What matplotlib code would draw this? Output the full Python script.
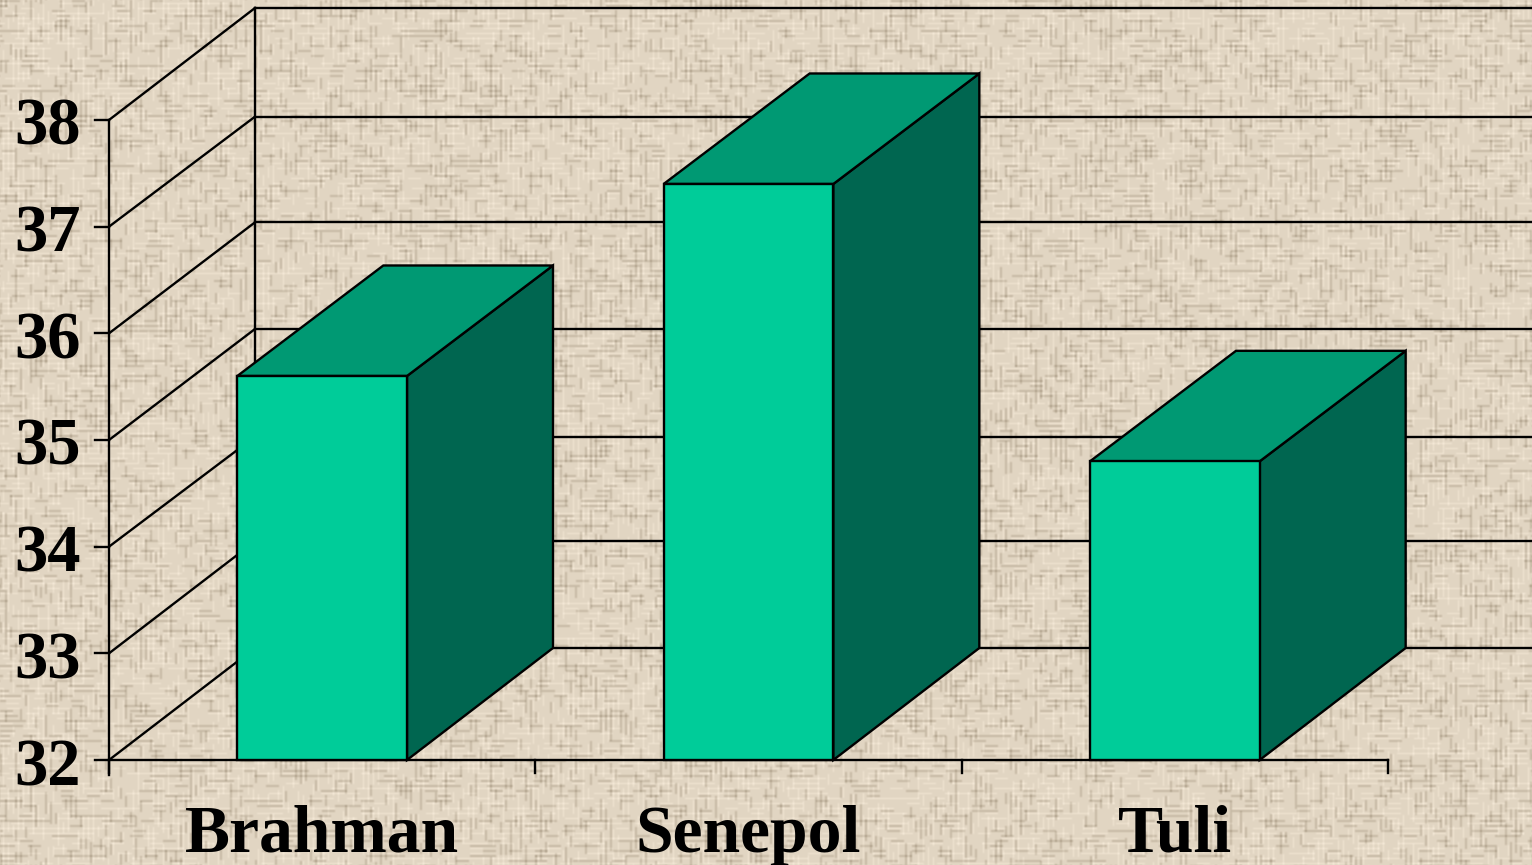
#!/usr/bin/env python3

"""plot.py: fake 3D bar chart of three breeds on a burlap background."""

import numpy as np
import matplotlib
matplotlib.use('Agg')
import matplotlib.pyplot as plt
from matplotlib.patches import Polygon

#DATA#
breeds = ['Brahman', 'Senepol', 'Tuli']
values = [35.6, 37.4, 34.8]
y_ticks = [32, 33, 34, 35, 36, 37, 38]

#STYLE#
W, H = 1532, 865
x_per_unit = 426.33   # pixels for one category
y_per_unit = 106.67   # pixels for one y unit
x0_px, y0_px = 109, 760
depth_x = 146 / x_per_unit
depth_y = 112 / y_per_unit
top_depth_y = 110.5 / y_per_unit   # bar tops are a touch shallower
wall_nudge = [0, 0, 2, 1, 1, 2, 0]   # back wall lines sit a px or two off the ticks
bar_width = 0.398
lw = 1.7
plt.rcParams['font.family'] = ['Liberation Serif', 'DejaVu Serif']


def hash2(a, b):
    # cheap repeatable hash, only used for the cloth texture
    v = np.sin(a * 12.9898 + b * 78.233) * 43758.5453
    return v - np.floor(v)


def blur(img):
    out = img.copy()
    for axis in (0, 1):
        out = (np.roll(out, 1, axis) + 2 * out + np.roll(out, -1, axis)) / 4
    return out


def threads(along, across, period, seg):
    # broken dark and light thread lines running along one direction
    t = across // period
    s = (along + (hash2(t, 2.1) * seg).astype(int)) // seg
    on_line = across % period < 2
    busy = 0.12 + 0.26 * hash2(t // 4, s // 5)
    dark = on_line & (hash2(t * 0.7, s * 1.1) < busy)
    light = (across % period == 3) & (hash2(t * 1.9, s * 0.6 + 4) < 0.4)
    return dark * 1.0, light * 1.0


fig = plt.figure(figsize=(W / 100, H / 100), dpi=100)
ax = fig.add_axes([0, 0, 1, 1])
xlim = (-x0_px / x_per_unit, (W - x0_px) / x_per_unit)
ylim = (32 - (H - y0_px) / y_per_unit, 32 + y0_px / y_per_unit)

# burlap weave on a roughly 5 px grid
yy, xx = np.mgrid[0:H, 0:W]
dark_v, light_v = threads(yy, xx, 5, 11)
dark_h, light_h = threads(xx, yy, 5, 13)
weave = blur(18 * light_v + 18 * light_h - 26 * dark_v - 26 * dark_h)
base = np.array([225, 213, 194], dtype=float)
tex = base[None, None, :] + weave[:, :, None] * np.array([1.0, 1.03, 1.1])
ax.imshow(np.clip(tex, 0, 255).astype(np.uint8), extent=(*xlim, *ylim), aspect='auto',
          interpolation='nearest', zorder=0)

#WALLS#
for v, nudge in zip(y_ticks, wall_nudge):
    back_y = v + depth_y - nudge / y_per_unit
    ax.plot([0, depth_x], [v, back_y], color='k', lw=lw, zorder=1)
    ax.plot([depth_x, xlim[1]], [back_y, back_y], color='k', lw=lw, zorder=1)
    ax.plot([-14 / x_per_unit, 0], [v, v], color='k', lw=lw, zorder=1)
    ax.annotate(str(v), xy=(0, v), xytext=(-28, -25), textcoords='offset pixels',
                ha='right', va='baseline', fontsize=48, fontweight='bold', color='k')

ax.plot([0, 0], [32 - 15 / y_per_unit, y_ticks[-1]], color='k', lw=lw, zorder=1)
ax.plot([depth_x, depth_x], [32 + depth_y, y_ticks[-1] + depth_y], color='k', lw=lw, zorder=1)
ax.plot([0, len(breeds)], [32, 32], color='k', lw=lw, zorder=1)
for i in range(len(breeds) + 1):
    ax.plot([i, i], [32, 32 - 13 / y_per_unit], color='k', lw=lw, zorder=1)

#BARS#
for i, (name, val) in enumerate(zip(breeds, values)):
    left = i + 0.5 - bar_width / 2
    right = i + 0.5 + bar_width / 2
    front = [(left, 32), (right, 32), (right, val), (left, val)]
    side = [(right, 32), (right + depth_x, 32 + depth_y), (right + depth_x, val + top_depth_y), (right, val)]
    top = [(left, val), (right, val), (right + depth_x, val + top_depth_y), (left + depth_x, val + top_depth_y)]
    for pts, col in ((side, '#006650'), (top, '#009973'), (front, '#00CC99')):
        ax.add_patch(Polygon(pts, closed=True, facecolor=col, edgecolor='k', lw=lw,
                             joinstyle='miter', zorder=2))
    ax.annotate(name, xy=(i + 0.5, 32), xytext=(0, -92), textcoords='offset pixels',
                ha='center', va='baseline', fontsize=48.7, fontweight='bold', color='k')

ax.set_xlim(*xlim)
ax.set_ylim(*ylim)
ax.axis('off')

fig.savefig('out.png', dpi=100)
